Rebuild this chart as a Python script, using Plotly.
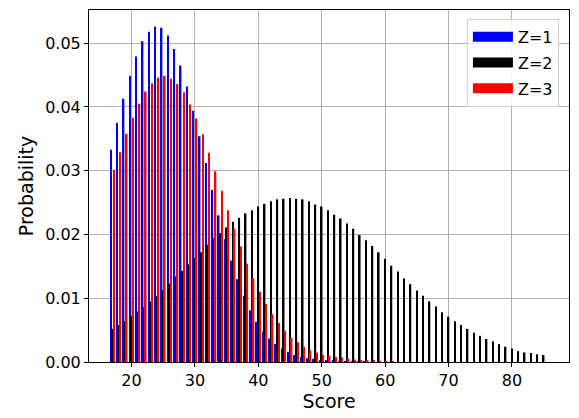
import plotly.graph_objects as go

scores = list(range(17, 86))

z1 = [0.0333, 0.0375, 0.0413, 0.0449, 0.0479, 0.0503, 0.0518, 0.0526, 0.0524, 0.0512,
      0.0491, 0.0465, 0.0432, 0.0394, 0.0354, 0.0312, 0.0270, 0.0230, 0.0193, 0.0159,
      0.0130, 0.0104, 0.0081, 0.0063, 0.0048, 0.0037, 0.0028, 0.0021, 0.0016, 0.0011,
      0.0008, 0.0006, 0.0005, 0.0003, 0.0002, 0.0002, 0.0001, 0.0001, 0.0001, 0.0001,
      0.0001, 0.0, 0.0, 0.0, 0.0, 0.0, 0.0, 0.0, 0.0, 0.0,
      0.0, 0.0, 0.0, 0.0, 0.0, 0.0, 0.0, 0.0, 0.0, 0.0,
      0.0, 0.0, 0.0, 0.0, 0.0, 0.0, 0.0, 0.0, 0.0]

z2 = [0.0052, 0.0058, 0.0064, 0.0072, 0.0079, 0.0086, 0.0095, 0.0104, 0.0113, 0.0123,
      0.0134, 0.0143, 0.0153, 0.0163, 0.0172, 0.0184, 0.0194, 0.0202, 0.0211, 0.0220,
      0.0226, 0.0233, 0.0238, 0.0244, 0.0248, 0.0252, 0.0255, 0.0256, 0.0257, 0.0256,
      0.0255, 0.0252, 0.0247, 0.0244, 0.0238, 0.0231, 0.0225, 0.0217, 0.0209, 0.0199,
      0.0191, 0.0182, 0.0172, 0.0162, 0.0151, 0.0142, 0.0131, 0.0122, 0.0112, 0.0104,
      0.0095, 0.0087, 0.0078, 0.0071, 0.0064, 0.0058, 0.0052, 0.0046, 0.0041, 0.0036,
      0.0032, 0.0028, 0.0024, 0.0021, 0.0017, 0.0015, 0.0014, 0.0012, 0.0011]

z3 = [0.0301, 0.0329, 0.0358, 0.0383, 0.0405, 0.0424, 0.0437, 0.0446, 0.0449, 0.0444,
      0.0436, 0.0423, 0.0404, 0.0382, 0.0357, 0.0328, 0.0299, 0.0268, 0.0238, 0.0209,
      0.0181, 0.0154, 0.0131, 0.0110, 0.0091, 0.0075, 0.0061, 0.0049, 0.0038, 0.0031,
      0.0024, 0.0018, 0.0015, 0.0011, 0.0010, 0.0008, 0.0007, 0.0005, 0.0004, 0.0003,
      0.0002, 0.0002, 0.0001, 0.0001, 0.0001, 0.0, 0.0, 0.0, 0.0, 0.0,
      0.0, 0.0, 0.0, 0.0, 0.0, 0.0, 0.0, 0.0, 0.0, 0.0,
      0.0, 0.0, 0.0, 0.0, 0.0, 0.0, 0.0, 0.0, 0.0]

names = ["Z=1", "Z=2", "Z=3"]
colors = ["blue", "black", "red"]
series = [z1, z2, z3]
x_ticks = [20, 30, 40, 50, 60, 70, 80]
y_ticks = [0.00, 0.01, 0.02, 0.03, 0.04, 0.05]

W = 0.25
offsets = [-0.25 - W / 2, -W / 2, 0.25 - W / 2]

FONT = "DejaVu Sans"
fig = go.Figure()
for name, col, vals, off in zip(names, colors, series, offsets):
    fig.add_trace(go.Bar(x=scores, y=vals, width=W, offset=off,
                         marker=dict(color=col, line=dict(width=0)),
                         name=name, showlegend=False))
for name, col in zip(names, colors):
    fig.add_trace(go.Scatter(x=[None], y=[None], mode="lines",
                             line=dict(color=col, width=12),
                             name=name, legendgroup=name, showlegend=True))

fig.update_layout(
    width=579, height=418,
    margin=dict(l=89, r=10, t=9, b=52),
    paper_bgcolor="white", plot_bgcolor="white",
    barmode="overlay",
    font=dict(family=FONT, size=16, color="black"),
    legend=dict(x=0.979, y=0.975, xanchor="right", yanchor="top",
                bgcolor="rgba(255,255,255,0.85)", bordercolor="#d0d0d0", borderwidth=1,
                font=dict(family=FONT, size=16), itemwidth=40,
                tracegroupgap=2),
    xaxis=dict(range=[13.3, 89.0], tickvals=x_ticks, showgrid=True,
               gridcolor="#b0b0b0", gridwidth=1, zeroline=False,
               showline=True, linecolor="black", linewidth=1, mirror=True,
               ticks="outside", ticklen=4, tickcolor="black",
               tickfont=dict(family=FONT, size=16),
               title=dict(text="Score", font=dict(family=FONT, size=19), standoff=5)),
    yaxis=dict(range=[0, 0.0552], tickvals=y_ticks, tickformat=".2f", showgrid=True,
               gridcolor="#b0b0b0", gridwidth=1, zeroline=False,
               showline=True, linecolor="black", linewidth=1, mirror=True,
               ticks="outside", ticklen=4, tickcolor="black",
               tickfont=dict(family=FONT, size=16),
               title=dict(text="Probability", font=dict(family=FONT, size=19), standoff=6)),
)

fig.write_html("out.html")
